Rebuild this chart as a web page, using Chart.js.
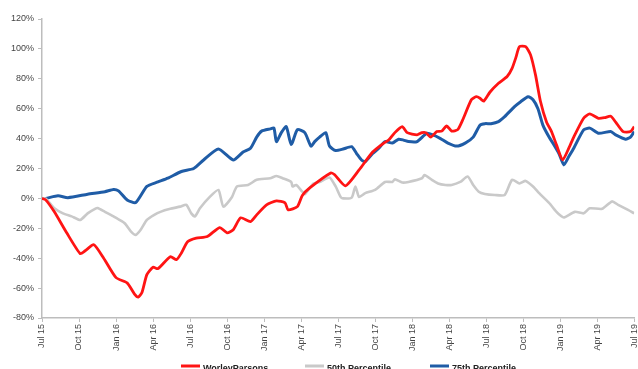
<!DOCTYPE html>
<html>
<head>
<meta charset="utf-8">
<script src="https://cdn.jsdelivr.net/npm/chart.js@4.4.1/dist/chart.umd.min.js"></script>
<style>
  html, body { margin: 0; padding: 0; background: #fff; overflow: hidden; }
  #wrap { position: relative; width: 647px; height: 380px; }
</style>
</head>
<body>
<div id="wrap"><canvas id="myChart"></canvas></div>
<script>
// quarterly tick labels, one every 3 months starting Jul 15
const tickLabels = ['Jul 15', 'Oct 15', 'Jan 16', 'Apr 16', 'Jul 16', 'Oct 16', 'Jan 17', 'Apr 17',
  'Jul 17', 'Oct 17', 'Jan 18', 'Apr 18', 'Jul 18', 'Oct 18', 'Jan 19', 'Apr 19', 'Jul 19'];

const seriesNames = ['WorleyParsons', '50th Percentile', '75th Percentile'];

// months since Jul 15 / total return in %
const worleyMonths = [0, 0.3, 1, 2, 3.1, 3.5, 4.2, 5, 6, 6.9, 7.5, 7.8, 8.1, 8.5, 9, 9.4, 10.4, 10.9, 11.3, 11.8,
  12.5, 13.4, 14.4, 15, 15.5, 16.1, 16.9, 17.4, 18.2, 19, 19.7, 19.95, 20.7, 21.1, 21.7, 23.4, 23.7, 24.6, 25.7,
  26.8, 27.7, 28.1, 28.6, 29.2, 29.6, 30.4, 30.8, 31.1, 31.5, 32, 32.4, 32.8, 33.2, 33.7, 34.1, 34.8, 35.2, 35.5,
  35.8, 36.3, 37, 37.7, 38.1, 38.4, 38.7, 39.2, 39.6, 40, 40.4, 40.9, 41.3, 41.7, 42.2, 42.7, 43.1, 43.9, 44.4,
  45.1, 45.6, 46.1, 46.5, 47.1, 47.7, 48];
const worleyValues = [0, -1, -9, -23, -37, -35, -31, -40, -53, -56.5, -64, -66, -63, -51, -46, -47, -39, -41, -36.5, -29,
  -26.6, -25.5, -19.5, -23, -21, -13, -15.5, -11, -4.3, -1.7, -3, -7.7, -5.5, 2, 7, 17, 16, 8.4, 19,
  31, 37, 39, 44, 48, 44, 42.5, 44, 44, 41, 44.7, 45, 48.5, 45, 46, 52.5, 66, 68, 67,
  65, 71, 77, 81.5, 87, 94, 101.5, 101.5, 96, 82.6, 65, 51, 44.7, 35.8, 25.7, 33.6, 41, 53.6, 56.5,
  53.6, 54, 55, 51, 44.7, 44.7, 48];

const p50Months = [0, 0.3, 1, 1.7, 2.4, 3.1, 3.7, 4.3, 4.5, 5.1, 5.8, 6.2, 6.7, 7.2, 7.6, 8, 8.5, 9.1, 9.6, 10.4,
  11.2, 11.7, 12.1, 12.4, 12.8, 13.6, 14.3, 14.7, 15.4, 15.8, 16.7, 17.4, 18.5, 19, 19.5, 20.2, 20.3, 20.6, 21.1,
  21.3, 22, 22.5, 23.3, 23.8, 24.2, 24.4, 25.1, 25.4, 25.7, 26.2, 27, 27.8, 28.4, 28.6, 29.2, 29.7, 30.8, 31,
  31.6, 32.1, 32.7, 33.2, 33.9, 34.5, 34.95, 35.4, 35.9, 36.7, 37.5, 38.1, 38.7, 39.2, 39.8, 40.3, 41.1, 41.7,
  42.1, 42.3, 43.2, 43.9, 44.4, 45.4, 46.2, 46.7, 47.5, 48];
const p50Values = [0, 0, -6.6, -10, -12, -14.4, -10, -7, -6.5, -9, -12, -14, -16.6, -22, -24.4, -21, -14.4, -11, -9, -7,
  -5.5, -4.3, -10, -12, -6.6, 1, 5.7, -5.5, 1, 8, 9, 12.4, 13.5, 15, 13.5, 11, 8, 9, 4.5,
  2.8, 10, 11, 14, 8, 1, 0, 0.5, 8, 1, 3.5, 5.7, 11, 11, 12.8, 10.6, 11, 13.5, 15.7,
  12.4, 10, 9, 9, 11, 14.6, 9, 4.5, 3, 2.3, 2.3, 12.4, 10, 11.7, 8, 3.5, -3, -9,
  -12, -12.8, -9, -10, -6.6, -7, -2, -4.3, -7.7, -10];

const p75Months = [0, 0.3, 1.3, 2.1, 3.7, 5.1, 5.8, 6.2, 6.9, 7.6, 8.5, 9.4, 10.2, 11.3, 12.3, 13.1, 14.3, 15.5, 16.3,
  16.9, 17.4, 17.8, 18.5, 18.8, 19, 19.4, 19.8, 20.2, 20.7, 21.3, 21.8, 22.1, 22.5, 23, 23.3, 23.8, 24.4, 25.1,
  25.5, 25.9, 26.2, 26.8, 27.3, 27.8, 28.4, 28.9, 29.3, 29.7, 30.4, 31.2, 31.7, 32.3, 32.9, 33.6, 34.3, 34.95,
  35.5, 35.9, 36.4, 37, 37.5, 38.3, 38.8, 39.4, 39.8, 40.2, 40.6, 41.1, 41.5, 41.9, 42.3, 42.7, 43.1, 43.9,
  44.4, 45.1, 46.1, 46.5, 47.3, 47.7, 48];
const p75Values = [0, 0, 1.7, 0.5, 2.8, 4.5, 6, 5, -1, -2.8, 8, 11, 13.5, 18, 20, 25.7, 33, 25.7, 31,
  33.6, 41, 45, 46.5, 47, 38, 44, 48, 36, 46, 44, 35, 38, 41, 44, 35, 32, 33, 34.6,
  30, 25.7, 24.6, 30, 33.6, 38, 37, 39.6, 39, 38, 38, 43.6, 42.5, 40, 37, 35, 37, 41,
  49, 50, 50, 51.4, 54.7, 61.4, 64.7, 68, 66, 60, 49, 41, 35.8, 30, 22.4, 28, 33.6, 45.8,
  47, 43.6, 44.7, 42.5, 39.6, 41, 44.7];

const lineColors = ['#ff1414', '#c9c9c9', '#1f5ca6'];

function toPoints(xs, ys) {
  return xs.map((m, i) => ({ x: m, y: ys[i] }));
}

// legend drawn under the axis labels, line sample followed by bold name
const bottomLegend = {
  id: 'bottomLegend',
  afterDraw(chart) {
    const ctx = chart.ctx;
    const starts = [181, 305, 430];
    ctx.save();
    ctx.font = 'bold 9px "Liberation Sans", Arial, sans-serif';
    ctx.textBaseline = 'alphabetic';
    ctx.textAlign = 'left';
    chart.data.datasets.forEach((ds, i) => {
      const x = starts[i];
      ctx.strokeStyle = ds.borderColor;
      ctx.lineWidth = 3;
      ctx.beginPath();
      ctx.moveTo(x, 366);
      ctx.lineTo(x + 19, 366);
      ctx.stroke();
      ctx.fillStyle = '#222';
      ctx.fillText(ds.label, x + 22, 371);
    });
    ctx.restore();
  }
};

const ctx = document.getElementById('myChart').getContext('2d');
const chart = new Chart(ctx, {
  type: 'line',
  data: {
    datasets: [
      { label: seriesNames[0], data: toPoints(worleyMonths, worleyValues), borderColor: lineColors[0], backgroundColor: lineColors[0], borderWidth: 2.8, pointRadius: 0, tension: 0.2, fill: false },
      { label: seriesNames[1], data: toPoints(p50Months, p50Values), borderColor: lineColors[1], backgroundColor: lineColors[1], borderWidth: 2.6, pointRadius: 0, tension: 0.2, fill: false },
      { label: seriesNames[2], data: toPoints(p75Months, p75Values), borderColor: lineColors[2], backgroundColor: lineColors[2], borderWidth: 3, pointRadius: 0, tension: 0.2, fill: false }
    ]
  },
  options: {
    responsive: true,
    maintainAspectRatio: false,
    animation: false,
    layout: { padding: { top: 19, right: 4, left: 0, bottom: 0 } },
    plugins: {
      legend: { display: false },
      tooltip: { enabled: false }
    },
    scales: {
      x: {
        type: 'linear',
        min: 0,
        max: 48,
        afterFit(scale) { scale.height = 62; },
        afterBuildTicks(scale) {
          scale.ticks = tickLabels.map((t, i) => ({ value: i * 3 }));
        },
        ticks: {
          autoSkip: false,
          minRotation: 90,
          maxRotation: 90,
          padding: 2,
          color: '#444',
          font: { family: '"Liberation Sans", Arial, sans-serif', size: 9 },
          callback: (v) => tickLabels[Math.round(v / 3)]
        },
        grid: { display: true, drawOnChartArea: false, drawTicks: true, tickLength: 4, color: '#bdbdbd' },
        border: { display: true, color: '#bdbdbd', width: 1.5 }
      },
      y: {
        min: -80,
        max: 120,
        afterFit(scale) { scale.width = 42; },
        ticks: {
          stepSize: 20,
          padding: 4,
          color: '#444',
          font: { family: '"Liberation Sans", Arial, sans-serif', size: 9 },
          callback: (v) => v + '%'
        },
        grid: { display: true, drawOnChartArea: false, drawTicks: true, tickLength: 4, color: '#bdbdbd' },
        border: { display: true, color: '#bdbdbd', width: 1.5 }
      }
    }
  },
  plugins: [bottomLegend]
});
</script>
</body>
</html>
